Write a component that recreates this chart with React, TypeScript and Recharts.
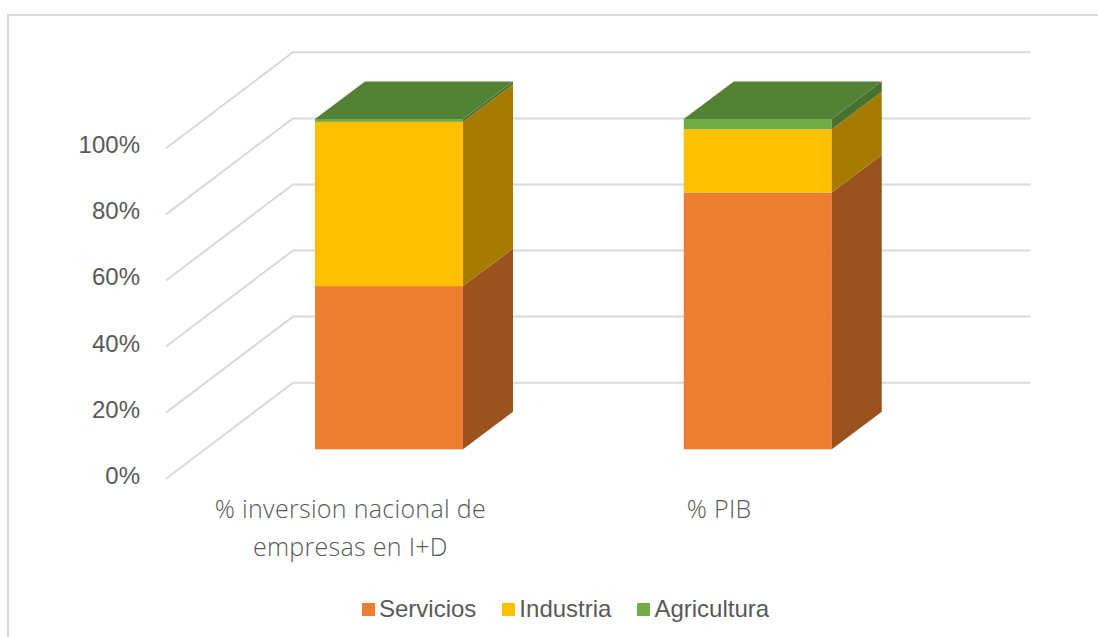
import { BarChart, Bar, XAxis, YAxis, CartesianGrid, Legend } from "recharts";

const categories = ["% inversion nacional de empresas en I+D", "% PIB"];
const servicios = [49.4, 77.7];
const industria = [49.7, 19.2];
const agricultura = [0.9, 3.1];
const yTicks = [0, 20, 40, 60, 80, 100];

const data = categories.map((name, i) => ({
  name,
  Servicios: servicios[i],
  Industria: industria[i],
  Agricultura: agricultura[i],
}));

const WIDTH = 1098;
const HEIGHT = 637;
const GREY = "#595959";
const LINE = "#d9d9d9";

// the 3D box: wall depth of the plot and how far the bars sit inside it
const WALL_DX = 127;
const WALL_DY = 96;
const BAR_DX = 39;
const BAR_DY = 29.4;
const BOX_DX = 50;
const BOX_DY = 37.5;

function wallLine(props: any) {
  const { x1, x2, y1, key } = props;
  return (
    <polyline
      key={key}
      points={`${x1},${y1} ${x1 + WALL_DX},${y1 - WALL_DY} ${x2 + WALL_DX},${y1 - WALL_DY}`}
      fill="none"
      stroke={LINE}
      strokeWidth={2}
    />
  );
}

function box(front: string, side: string, top?: string) {
  return (props: any) => {
    const x = props.x + BAR_DX;
    const y = props.y - BAR_DY;
    const r = x + props.width;
    const b = y + props.height;
    return (
      <g>
        <rect x={x} y={y} width={props.width} height={props.height} fill={front} />
        <polygon
          points={`${r},${y} ${r + BOX_DX},${y - BOX_DY} ${r + BOX_DX},${b - BOX_DY} ${r},${b}`}
          fill={side}
        />
        {top && (
          <polygon
            points={`${x},${y} ${x + BOX_DX},${y - BOX_DY} ${r + BOX_DX},${y - BOX_DY} ${r},${y}`}
            fill={top}
          />
        )}
      </g>
    );
  };
}

function YTick(props: any) {
  const { x, y, payload } = props;
  return (
    <text x={x - 18} y={y + 5} textAnchor="end" fontFamily="Liberation Sans" fontSize={24} fill={GREY}>
      {payload.value}%
    </text>
  );
}

// break long category names into lines of at most 24 characters
function wrap(label: string) {
  const lines: string[] = [];
  let line = "";
  for (const word of label.split(" ")) {
    if (line && (line + " " + word).length > 24) {
      lines.push(line);
      line = word;
    } else {
      line = line ? line + " " + word : word;
    }
  }
  lines.push(line);
  return lines;
}

function XTick(props: any) {
  const { x, y, payload } = props;
  return (
    <text
      x={x}
      y={y + 33}
      textAnchor="middle"
      fontFamily="Open Sans"
      fontWeight={300}
      fontSize={25}
      letterSpacing={0.3}
      fill={GREY}
    >
      {wrap(payload.value).map((line, i) => (
        <tspan key={line} x={x} dy={i === 0 ? 0 : 38.5}>
          {line}
        </tspan>
      ))}
    </text>
  );
}

function LegendRow(props: any) {
  return (
    <div style={{ display: "flex", marginLeft: 362, fontFamily: "Liberation Sans", fontSize: 24, color: GREY }}>
      {props.payload.map((item: any) => (
        <div key={item.value} style={{ display: "flex", alignItems: "center", marginRight: 26 }}>
          <span style={{ width: 13, height: 13, background: item.color, marginRight: 4 }} />
          {item.value}
        </div>
      ))}
    </div>
  );
}

export default function App() {
  return (
    <div style={{ position: "absolute", left: 0, top: 0, width: WIDTH, height: HEIGHT, overflow: "hidden", background: "#fff" }}>
      <div style={{ position: "absolute", left: 7, top: 14, width: WIDTH, height: HEIGHT, border: `2px solid ${LINE}` }} />
      <BarChart
        width={WIDTH}
        height={HEIGHT}
        data={data}
        barCategoryGap={0}
        barSize={148}
        margin={{ top: 148.3, right: 194.5, bottom: 38.3, left: 106 }}
      >
        <CartesianGrid vertical={false} horizontal={wallLine} />
        <XAxis
          dataKey="name"
          axisLine={false}
          tickLine={false}
          height={90}
          tick={XTick}
          tickMargin={0}
          interval={0}
        />
        <YAxis
          type="number"
          domain={[0, 100]}
          ticks={yTicks}
          width={60}
          axisLine={false}
          tickLine={false}
          tick={YTick}
        />
        <Bar dataKey="Servicios" stackId="a" fill="#ED7D31" isAnimationActive={false} shape={box("#ED7D31", "#9A521F")} />
        <Bar dataKey="Industria" stackId="a" fill="#FFC000" isAnimationActive={false} shape={box("#FFC000", "#A67C00")} />
        <Bar dataKey="Agricultura" stackId="a" fill="#70AD47" isAnimationActive={false} shape={box("#70AD47", "#48702E", "#548235")} />
        <Legend height={30} content={LegendRow} itemSorter={null} wrapperStyle={{ left: 0, width: WIDTH, bottom: 12 }} />
      </BarChart>
    </div>
  );
}
